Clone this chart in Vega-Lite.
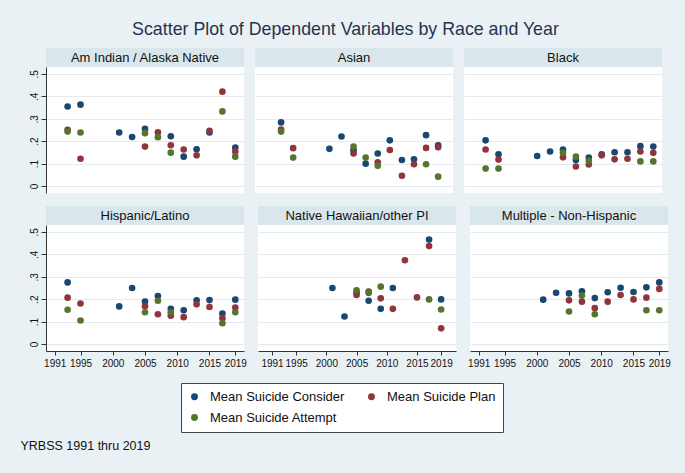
{
  "$schema": "https://vega.github.io/schema/vega-lite/v6.json",
  "background": "#eaf1f4",
  "padding": {"left": 20, "top": 21, "right": 21, "bottom": 20},
  "title": {"text": "Scatter Plot of Dependent Variables by Race and Year", "fontSize": 17.8, "fontWeight": "normal", "color": "#1f3550", "anchor": "middle", "offset": 9},
  "datasets": {
    "d": [
      {"race": "AI", "year": 1993, "measure": "Mean Suicide Consider", "value": 0.355},
      {"race": "AI", "year": 1995, "measure": "Mean Suicide Consider", "value": 0.363},
      {"race": "AI", "year": 2001, "measure": "Mean Suicide Consider", "value": 0.239},
      {"race": "AI", "year": 2003, "measure": "Mean Suicide Consider", "value": 0.219},
      {"race": "AI", "year": 2005, "measure": "Mean Suicide Consider", "value": 0.255},
      {"race": "AI", "year": 2009, "measure": "Mean Suicide Consider", "value": 0.222},
      {"race": "AI", "year": 2011, "measure": "Mean Suicide Consider", "value": 0.131},
      {"race": "AI", "year": 2013, "measure": "Mean Suicide Consider", "value": 0.164},
      {"race": "AI", "year": 2015, "measure": "Mean Suicide Consider", "value": 0.239},
      {"race": "AI", "year": 2019, "measure": "Mean Suicide Consider", "value": 0.172},
      {"race": "AS", "year": 1993, "measure": "Mean Suicide Consider", "value": 0.284},
      {"race": "AS", "year": 2001, "measure": "Mean Suicide Consider", "value": 0.166},
      {"race": "AS", "year": 2003, "measure": "Mean Suicide Consider", "value": 0.221},
      {"race": "AS", "year": 2005, "measure": "Mean Suicide Consider", "value": 0.160},
      {"race": "AS", "year": 2007, "measure": "Mean Suicide Consider", "value": 0.100},
      {"race": "AS", "year": 2009, "measure": "Mean Suicide Consider", "value": 0.145},
      {"race": "AS", "year": 2011, "measure": "Mean Suicide Consider", "value": 0.204},
      {"race": "AS", "year": 2013, "measure": "Mean Suicide Consider", "value": 0.116},
      {"race": "AS", "year": 2015, "measure": "Mean Suicide Consider", "value": 0.119},
      {"race": "AS", "year": 2017, "measure": "Mean Suicide Consider", "value": 0.227},
      {"race": "AS", "year": 2019, "measure": "Mean Suicide Consider", "value": 0.182},
      {"race": "BL", "year": 1993, "measure": "Mean Suicide Consider", "value": 0.204},
      {"race": "BL", "year": 1995, "measure": "Mean Suicide Consider", "value": 0.142},
      {"race": "BL", "year": 2001, "measure": "Mean Suicide Consider", "value": 0.134},
      {"race": "BL", "year": 2003, "measure": "Mean Suicide Consider", "value": 0.154},
      {"race": "BL", "year": 2005, "measure": "Mean Suicide Consider", "value": 0.163},
      {"race": "BL", "year": 2007, "measure": "Mean Suicide Consider", "value": 0.116},
      {"race": "BL", "year": 2009, "measure": "Mean Suicide Consider", "value": 0.127},
      {"race": "BL", "year": 2011, "measure": "Mean Suicide Consider", "value": 0.141},
      {"race": "BL", "year": 2013, "measure": "Mean Suicide Consider", "value": 0.151},
      {"race": "BL", "year": 2015, "measure": "Mean Suicide Consider", "value": 0.151},
      {"race": "BL", "year": 2017, "measure": "Mean Suicide Consider", "value": 0.178},
      {"race": "BL", "year": 2019, "measure": "Mean Suicide Consider", "value": 0.176},
      {"race": "HI", "year": 1993, "measure": "Mean Suicide Consider", "value": 0.275},
      {"race": "HI", "year": 2001, "measure": "Mean Suicide Consider", "value": 0.168},
      {"race": "HI", "year": 2003, "measure": "Mean Suicide Consider", "value": 0.250},
      {"race": "HI", "year": 2005, "measure": "Mean Suicide Consider", "value": 0.190},
      {"race": "HI", "year": 2007, "measure": "Mean Suicide Consider", "value": 0.214},
      {"race": "HI", "year": 2009, "measure": "Mean Suicide Consider", "value": 0.157},
      {"race": "HI", "year": 2011, "measure": "Mean Suicide Consider", "value": 0.151},
      {"race": "HI", "year": 2013, "measure": "Mean Suicide Consider", "value": 0.195},
      {"race": "HI", "year": 2015, "measure": "Mean Suicide Consider", "value": 0.196},
      {"race": "HI", "year": 2017, "measure": "Mean Suicide Consider", "value": 0.136},
      {"race": "HI", "year": 2019, "measure": "Mean Suicide Consider", "value": 0.198},
      {"race": "NH", "year": 2001, "measure": "Mean Suicide Consider", "value": 0.250},
      {"race": "NH", "year": 2003, "measure": "Mean Suicide Consider", "value": 0.123},
      {"race": "NH", "year": 2005, "measure": "Mean Suicide Consider", "value": 0.230},
      {"race": "NH", "year": 2007, "measure": "Mean Suicide Consider", "value": 0.193},
      {"race": "NH", "year": 2009, "measure": "Mean Suicide Consider", "value": 0.157},
      {"race": "NH", "year": 2011, "measure": "Mean Suicide Consider", "value": 0.250},
      {"race": "NH", "year": 2017, "measure": "Mean Suicide Consider", "value": 0.466},
      {"race": "NH", "year": 2019, "measure": "Mean Suicide Consider", "value": 0.199},
      {"race": "MU", "year": 2001, "measure": "Mean Suicide Consider", "value": 0.198},
      {"race": "MU", "year": 2003, "measure": "Mean Suicide Consider", "value": 0.229},
      {"race": "MU", "year": 2005, "measure": "Mean Suicide Consider", "value": 0.226},
      {"race": "MU", "year": 2007, "measure": "Mean Suicide Consider", "value": 0.235},
      {"race": "MU", "year": 2009, "measure": "Mean Suicide Consider", "value": 0.205},
      {"race": "MU", "year": 2011, "measure": "Mean Suicide Consider", "value": 0.231},
      {"race": "MU", "year": 2013, "measure": "Mean Suicide Consider", "value": 0.251},
      {"race": "MU", "year": 2015, "measure": "Mean Suicide Consider", "value": 0.232},
      {"race": "MU", "year": 2017, "measure": "Mean Suicide Consider", "value": 0.253},
      {"race": "MU", "year": 2019, "measure": "Mean Suicide Consider", "value": 0.275},

      {"race": "AI", "year": 1993, "measure": "Mean Suicide Plan", "value": 0.251},
      {"race": "AI", "year": 1995, "measure": "Mean Suicide Plan", "value": 0.122},
      {"race": "AI", "year": 2005, "measure": "Mean Suicide Plan", "value": 0.176},
      {"race": "AI", "year": 2007, "measure": "Mean Suicide Plan", "value": 0.240},
      {"race": "AI", "year": 2009, "measure": "Mean Suicide Plan", "value": 0.182},
      {"race": "AI", "year": 2011, "measure": "Mean Suicide Plan", "value": 0.163},
      {"race": "AI", "year": 2013, "measure": "Mean Suicide Plan", "value": 0.137},
      {"race": "AI", "year": 2015, "measure": "Mean Suicide Plan", "value": 0.246},
      {"race": "AI", "year": 2017, "measure": "Mean Suicide Plan", "value": 0.421},
      {"race": "AI", "year": 2019, "measure": "Mean Suicide Plan", "value": 0.154},
      {"race": "AS", "year": 1993, "measure": "Mean Suicide Plan", "value": 0.252},
      {"race": "AS", "year": 1995, "measure": "Mean Suicide Plan", "value": 0.169},
      {"race": "AS", "year": 2005, "measure": "Mean Suicide Plan", "value": 0.145},
      {"race": "AS", "year": 2009, "measure": "Mean Suicide Plan", "value": 0.106},
      {"race": "AS", "year": 2011, "measure": "Mean Suicide Plan", "value": 0.161},
      {"race": "AS", "year": 2013, "measure": "Mean Suicide Plan", "value": 0.046},
      {"race": "AS", "year": 2015, "measure": "Mean Suicide Plan", "value": 0.097},
      {"race": "AS", "year": 2017, "measure": "Mean Suicide Plan", "value": 0.170},
      {"race": "AS", "year": 2019, "measure": "Mean Suicide Plan", "value": 0.173},
      {"race": "BL", "year": 1993, "measure": "Mean Suicide Plan", "value": 0.163},
      {"race": "BL", "year": 1995, "measure": "Mean Suicide Plan", "value": 0.118},
      {"race": "BL", "year": 2005, "measure": "Mean Suicide Plan", "value": 0.128},
      {"race": "BL", "year": 2007, "measure": "Mean Suicide Plan", "value": 0.087},
      {"race": "BL", "year": 2009, "measure": "Mean Suicide Plan", "value": 0.096},
      {"race": "BL", "year": 2011, "measure": "Mean Suicide Plan", "value": 0.137},
      {"race": "BL", "year": 2013, "measure": "Mean Suicide Plan", "value": 0.119},
      {"race": "BL", "year": 2015, "measure": "Mean Suicide Plan", "value": 0.122},
      {"race": "BL", "year": 2017, "measure": "Mean Suicide Plan", "value": 0.154},
      {"race": "BL", "year": 2019, "measure": "Mean Suicide Plan", "value": 0.148},
      {"race": "HI", "year": 1993, "measure": "Mean Suicide Plan", "value": 0.207},
      {"race": "HI", "year": 1995, "measure": "Mean Suicide Plan", "value": 0.181},
      {"race": "HI", "year": 2005, "measure": "Mean Suicide Plan", "value": 0.169},
      {"race": "HI", "year": 2007, "measure": "Mean Suicide Plan", "value": 0.133},
      {"race": "HI", "year": 2009, "measure": "Mean Suicide Plan", "value": 0.126},
      {"race": "HI", "year": 2011, "measure": "Mean Suicide Plan", "value": 0.120},
      {"race": "HI", "year": 2013, "measure": "Mean Suicide Plan", "value": 0.177},
      {"race": "HI", "year": 2015, "measure": "Mean Suicide Plan", "value": 0.165},
      {"race": "HI", "year": 2017, "measure": "Mean Suicide Plan", "value": 0.115},
      {"race": "HI", "year": 2019, "measure": "Mean Suicide Plan", "value": 0.163},
      {"race": "NH", "year": 2005, "measure": "Mean Suicide Plan", "value": 0.219},
      {"race": "NH", "year": 2007, "measure": "Mean Suicide Plan", "value": 0.234},
      {"race": "NH", "year": 2009, "measure": "Mean Suicide Plan", "value": 0.204},
      {"race": "NH", "year": 2011, "measure": "Mean Suicide Plan", "value": 0.157},
      {"race": "NH", "year": 2013, "measure": "Mean Suicide Plan", "value": 0.374},
      {"race": "NH", "year": 2015, "measure": "Mean Suicide Plan", "value": 0.208},
      {"race": "NH", "year": 2017, "measure": "Mean Suicide Plan", "value": 0.437},
      {"race": "NH", "year": 2019, "measure": "Mean Suicide Plan", "value": 0.070},
      {"race": "MU", "year": 2005, "measure": "Mean Suicide Plan", "value": 0.195},
      {"race": "MU", "year": 2007, "measure": "Mean Suicide Plan", "value": 0.189},
      {"race": "MU", "year": 2009, "measure": "Mean Suicide Plan", "value": 0.160},
      {"race": "MU", "year": 2011, "measure": "Mean Suicide Plan", "value": 0.189},
      {"race": "MU", "year": 2013, "measure": "Mean Suicide Plan", "value": 0.219},
      {"race": "MU", "year": 2015, "measure": "Mean Suicide Plan", "value": 0.199},
      {"race": "MU", "year": 2017, "measure": "Mean Suicide Plan", "value": 0.207},
      {"race": "MU", "year": 2019, "measure": "Mean Suicide Plan", "value": 0.246},

      {"race": "AI", "year": 1993, "measure": "Mean Suicide Attempt", "value": 0.243},
      {"race": "AI", "year": 1995, "measure": "Mean Suicide Attempt", "value": 0.239},
      {"race": "AI", "year": 2005, "measure": "Mean Suicide Attempt", "value": 0.236},
      {"race": "AI", "year": 2007, "measure": "Mean Suicide Attempt", "value": 0.218},
      {"race": "AI", "year": 2009, "measure": "Mean Suicide Attempt", "value": 0.149},
      {"race": "AI", "year": 2017, "measure": "Mean Suicide Attempt", "value": 0.333},
      {"race": "AI", "year": 2019, "measure": "Mean Suicide Attempt", "value": 0.131},
      {"race": "AS", "year": 1993, "measure": "Mean Suicide Attempt", "value": 0.243},
      {"race": "AS", "year": 1995, "measure": "Mean Suicide Attempt", "value": 0.127},
      {"race": "AS", "year": 2005, "measure": "Mean Suicide Attempt", "value": 0.176},
      {"race": "AS", "year": 2007, "measure": "Mean Suicide Attempt", "value": 0.127},
      {"race": "AS", "year": 2009, "measure": "Mean Suicide Attempt", "value": 0.090},
      {"race": "AS", "year": 2017, "measure": "Mean Suicide Attempt", "value": 0.097},
      {"race": "AS", "year": 2019, "measure": "Mean Suicide Attempt", "value": 0.042},
      {"race": "BL", "year": 1993, "measure": "Mean Suicide Attempt", "value": 0.078},
      {"race": "BL", "year": 1995, "measure": "Mean Suicide Attempt", "value": 0.078},
      {"race": "BL", "year": 2005, "measure": "Mean Suicide Attempt", "value": 0.148},
      {"race": "BL", "year": 2007, "measure": "Mean Suicide Attempt", "value": 0.131},
      {"race": "BL", "year": 2009, "measure": "Mean Suicide Attempt", "value": 0.112},
      {"race": "BL", "year": 2017, "measure": "Mean Suicide Attempt", "value": 0.110},
      {"race": "BL", "year": 2019, "measure": "Mean Suicide Attempt", "value": 0.110},
      {"race": "HI", "year": 1993, "measure": "Mean Suicide Attempt", "value": 0.153},
      {"race": "HI", "year": 1995, "measure": "Mean Suicide Attempt", "value": 0.105},
      {"race": "HI", "year": 2005, "measure": "Mean Suicide Attempt", "value": 0.142},
      {"race": "HI", "year": 2007, "measure": "Mean Suicide Attempt", "value": 0.193},
      {"race": "HI", "year": 2009, "measure": "Mean Suicide Attempt", "value": 0.142},
      {"race": "HI", "year": 2017, "measure": "Mean Suicide Attempt", "value": 0.093},
      {"race": "HI", "year": 2019, "measure": "Mean Suicide Attempt", "value": 0.142},
      {"race": "NH", "year": 2005, "measure": "Mean Suicide Attempt", "value": 0.240},
      {"race": "NH", "year": 2007, "measure": "Mean Suicide Attempt", "value": 0.228},
      {"race": "NH", "year": 2009, "measure": "Mean Suicide Attempt", "value": 0.256},
      {"race": "NH", "year": 2017, "measure": "Mean Suicide Attempt", "value": 0.199},
      {"race": "NH", "year": 2019, "measure": "Mean Suicide Attempt", "value": 0.154},
      {"race": "MU", "year": 2005, "measure": "Mean Suicide Attempt", "value": 0.145},
      {"race": "MU", "year": 2007, "measure": "Mean Suicide Attempt", "value": 0.216},
      {"race": "MU", "year": 2009, "measure": "Mean Suicide Attempt", "value": 0.133},
      {"race": "MU", "year": 2017, "measure": "Mean Suicide Attempt", "value": 0.151},
      {"race": "MU", "year": 2019, "measure": "Mean Suicide Attempt", "value": 0.151}
    ]
  },
  "vconcat": [
    {
      "spacing": 13,
      "vconcat": [
        {
          "spacing": 11,
          "hconcat": [
            {
              "spacing": 0,
              "vconcat": [
                {"data": {"values": [{"label": "Am Indian / Alaska Native"}]}, "width": 198, "height": 19, "view": {"fill": "#d9e6eb"}, "mark": {"type": "text", "fontSize": 13, "color": "#111111"}, "encoding": {"text": {"field": "label"}}},
                {"data": {"name": "d"}, "transform": [{"filter": "datum.race === 'AI'"}], "width": 198, "height": 126, "view": {"fill": "white"},
                 "mark": {"type": "circle", "size": 44, "opacity": 1},
                 "encoding": {
                   "x": {"field": "year", "type": "quantitative", "scale": {"domain": [1989.65, 2020.35], "nice": false, "zero": false}, "axis": null},
                   "y": {"field": "value", "type": "quantitative", "scale": {"domain": [-0.031, 0.531], "nice": false, "zero": false}, "axis": {"title": null, "values": [0, 0.1, 0.2, 0.3, 0.4, 0.5], "labelExpr": "datum.value == 0 ? '0' : replace(format(datum.value, '.1f'), '0.', '.')", "labelAngle": -90, "tickSize": 5, "labelPadding": 2, "grid": true}},
                   "color": {"field": "measure", "type": "nominal", "scale": {"domain": ["Mean Suicide Consider", "Mean Suicide Plan", "Mean Suicide Attempt"], "range": ["#1a476f", "#90353b", "#55752f"]}, "legend": {"title": null}}
                 }}
              ]
            },
            {
              "spacing": 0,
              "vconcat": [
                {"data": {"values": [{"label": "Asian"}]}, "width": 198, "height": 19, "view": {"fill": "#d9e6eb"}, "mark": {"type": "text", "fontSize": 13, "color": "#111111"}, "encoding": {"text": {"field": "label"}}},
                {"data": {"name": "d"}, "transform": [{"filter": "datum.race === 'AS'"}], "width": 198, "height": 126, "view": {"fill": "white"},
                 "mark": {"type": "circle", "size": 44, "opacity": 1},
                 "encoding": {
                   "x": {"field": "year", "type": "quantitative", "scale": {"domain": [1988.68, 2021.46], "nice": false, "zero": false}, "axis": null},
                   "y": {"field": "value", "type": "quantitative", "scale": {"domain": [-0.031, 0.531], "nice": false, "zero": false}, "axis": {"title": null, "values": [0, 0.1, 0.2, 0.3, 0.4, 0.5], "labels": false, "ticks": false, "domain": false, "grid": true}},
                   "color": {"field": "measure", "type": "nominal", "scale": {"domain": ["Mean Suicide Consider", "Mean Suicide Plan", "Mean Suicide Attempt"], "range": ["#1a476f", "#90353b", "#55752f"]}, "legend": {"title": null}}
                 }}
              ]
            },
            {
              "spacing": 0,
              "vconcat": [
                {"data": {"values": [{"label": "Black"}]}, "width": 198, "height": 19, "view": {"fill": "#d9e6eb"}, "mark": {"type": "text", "fontSize": 13, "color": "#111111"}, "encoding": {"text": {"field": "label"}}},
                {"data": {"name": "d"}, "transform": [{"filter": "datum.race === 'BL'"}], "width": 198, "height": 126, "view": {"fill": "white"},
                 "mark": {"type": "circle", "size": 44, "opacity": 1},
                 "encoding": {
                   "x": {"field": "year", "type": "quantitative", "scale": {"domain": [1989.65, 2020.35], "nice": false, "zero": false}, "axis": null},
                   "y": {"field": "value", "type": "quantitative", "scale": {"domain": [-0.031, 0.531], "nice": false, "zero": false}, "axis": {"title": null, "values": [0, 0.1, 0.2, 0.3, 0.4, 0.5], "labels": false, "ticks": false, "domain": false, "grid": true}},
                   "color": {"field": "measure", "type": "nominal", "scale": {"domain": ["Mean Suicide Consider", "Mean Suicide Plan", "Mean Suicide Attempt"], "range": ["#1a476f", "#90353b", "#55752f"]}, "legend": {"title": null}}
                 }}
              ]
            }
          ]
        },
        {
          "spacing": 11,
          "hconcat": [
            {
              "spacing": 0,
              "vconcat": [
                {"data": {"values": [{"label": "Hispanic/Latino"}]}, "width": 198, "height": 19, "view": {"fill": "#d9e6eb"}, "mark": {"type": "text", "fontSize": 13, "color": "#111111"}, "encoding": {"text": {"field": "label"}}},
                {"data": {"name": "d"}, "transform": [{"filter": "datum.race === 'HI'"}], "width": 198, "height": 126, "view": {"fill": "white"},
                 "mark": {"type": "circle", "size": 44, "opacity": 1},
                 "encoding": {
                   "x": {"field": "year", "type": "quantitative", "scale": {"domain": [1989.65, 2020.35], "nice": false, "zero": false}, "axis": {"title": null, "values": [1991, 1995, 2000, 2005, 2010, 2015, 2019], "format": "d", "grid": false, "tickSize": 4, "labelFlush": false, "labelOverlap": false, "labelPadding": 3}},
                   "y": {"field": "value", "type": "quantitative", "scale": {"domain": [-0.031, 0.531], "nice": false, "zero": false}, "axis": {"title": null, "values": [0, 0.1, 0.2, 0.3, 0.4, 0.5], "labelExpr": "datum.value == 0 ? '0' : replace(format(datum.value, '.1f'), '0.', '.')", "labelAngle": -90, "tickSize": 5, "labelPadding": 2, "grid": true}},
                   "color": {"field": "measure", "type": "nominal", "scale": {"domain": ["Mean Suicide Consider", "Mean Suicide Plan", "Mean Suicide Attempt"], "range": ["#1a476f", "#90353b", "#55752f"]}, "legend": {"title": null}}
                 }}
              ]
            },
            {
              "spacing": 0,
              "vconcat": [
                {"data": {"values": [{"label": "Native Hawaiian/other PI"}]}, "width": 198, "height": 19, "view": {"fill": "#d9e6eb"}, "mark": {"type": "text", "fontSize": 13, "color": "#111111"}, "encoding": {"text": {"field": "label"}}},
                {"data": {"name": "d"}, "transform": [{"filter": "datum.race === 'NH'"}], "width": 198, "height": 126, "view": {"fill": "white"},
                 "mark": {"type": "circle", "size": 44, "opacity": 1},
                 "encoding": {
                   "x": {"field": "year", "type": "quantitative", "scale": {"domain": [1988.68, 2021.46], "nice": false, "zero": false}, "axis": {"title": null, "values": [1991, 1995, 2000, 2005, 2010, 2015, 2019], "format": "d", "grid": false, "tickSize": 4, "labelFlush": false, "labelOverlap": false, "labelPadding": 3}},
                   "y": {"field": "value", "type": "quantitative", "scale": {"domain": [-0.031, 0.531], "nice": false, "zero": false}, "axis": {"title": null, "values": [0, 0.1, 0.2, 0.3, 0.4, 0.5], "labels": false, "ticks": false, "domain": false, "grid": true}},
                   "color": {"field": "measure", "type": "nominal", "scale": {"domain": ["Mean Suicide Consider", "Mean Suicide Plan", "Mean Suicide Attempt"], "range": ["#1a476f", "#90353b", "#55752f"]}, "legend": {"title": null}}
                 }}
              ]
            },
            {
              "spacing": 0,
              "vconcat": [
                {"data": {"values": [{"label": "Multiple - Non-Hispanic"}]}, "width": 198, "height": 19, "view": {"fill": "#d9e6eb"}, "mark": {"type": "text", "fontSize": 13, "color": "#111111"}, "encoding": {"text": {"field": "label"}}},
                {"data": {"name": "d"}, "transform": [{"filter": "datum.race === 'MU'"}], "width": 198, "height": 126, "view": {"fill": "white"},
                 "mark": {"type": "circle", "size": 44, "opacity": 1},
                 "encoding": {
                   "x": {"field": "year", "type": "quantitative", "scale": {"domain": [1989.65, 2020.35], "nice": false, "zero": false}, "axis": {"title": null, "values": [1991, 1995, 2000, 2005, 2010, 2015, 2019], "format": "d", "grid": false, "tickSize": 4, "labelFlush": false, "labelOverlap": false, "labelPadding": 3}},
                   "y": {"field": "value", "type": "quantitative", "scale": {"domain": [-0.031, 0.531], "nice": false, "zero": false}, "axis": {"title": null, "values": [0, 0.1, 0.2, 0.3, 0.4, 0.5], "labels": false, "ticks": false, "domain": false, "grid": true}},
                   "color": {"field": "measure", "type": "nominal", "scale": {"domain": ["Mean Suicide Consider", "Mean Suicide Plan", "Mean Suicide Attempt"], "range": ["#1a476f", "#90353b", "#55752f"]}, "legend": {"title": null}}
                 }}
              ]
            }
          ]
        }
      ]
    },
    {
      "data": {"values": [{"note": "YRBSS 1991 thru 2019"}]},
      "width": 1, "height": 10,
      "mark": {"type": "text", "align": "left", "fontSize": 12.5, "dx": -26, "color": "#111111"},
      "encoding": {"text": {"field": "note"}}
    }
  ],
  "spacing": 72,
  "config": {
    "font": "Liberation Sans",
    "view": {"stroke": null},
    "axis": {"domainColor": "#333333", "tickColor": "#333333", "labelColor": "#111111", "labelFontSize": 10, "gridColor": "#e3ebef", "labelFont": "Liberation Sans"},
    "legend": {"orient": "none", "legendX": 135, "legendY": 335, "columns": 2, "direction": "horizontal", "symbolType": "circle", "symbolSize": 48, "labelFontSize": 13, "labelColor": "#111111", "fillColor": "white", "strokeColor": "#444444", "padding": 7, "columnPadding": 20, "rowPadding": 7, "labelOffset": 9, "labelLimit": 300, "symbolStrokeWidth": 0, "symbolOpacity": 1}
  }
}
